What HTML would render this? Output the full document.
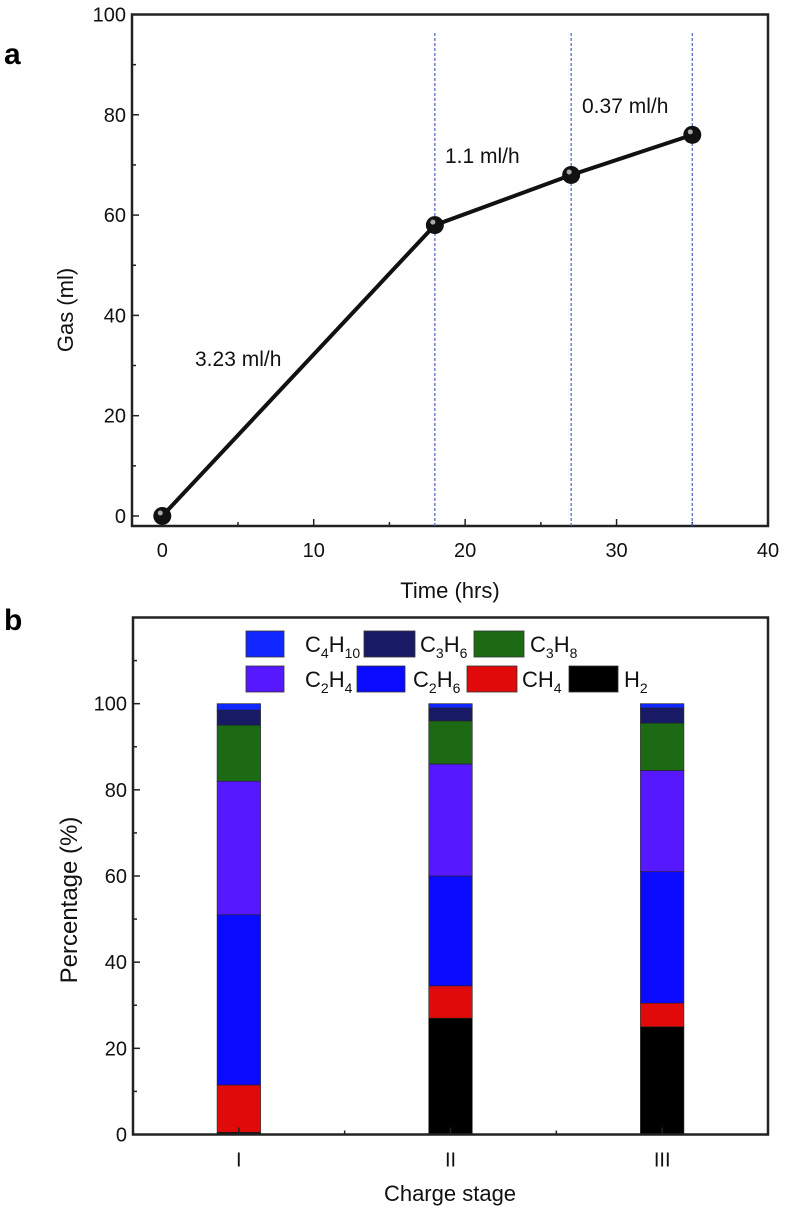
<!DOCTYPE html>
<html><head><meta charset="utf-8"><style>
body{margin:0;background:#fff;}
svg{display:block;font-family:"Liberation Sans",Arial,sans-serif;}
</style></head><body>
<svg id="s" width="785" height="1211" viewBox="0 0 785 1211">
<text x="4" y="64" font-size="30" font-weight="bold">a</text>
<text x="4" y="630" font-size="30" font-weight="bold">b</text>
<g id="ga"></g>
<g id="gb"></g>
</svg>
<script>
const timeHrs=[0,18,27,35];
const gasMl=[0,58,68,76];
const xTicksA=[0,10,20,30,40];
const yTicksA=[0,20,40,60,80,100];
const rateLabels=["3.23 ml/h","1.1 ml/h","0.37 ml/h"];
const stages=["I","II","III"];
const species=["H2","CH4","C2H6","C2H4","C3H8","C3H6","C4H10"];
const valH2=[0.5,27,25];
const valCH4=[11,7.5,5.5];
const valC2H6=[39.5,25.5,30.5];
const valC2H4=[31,26,23.5];
const valC3H8=[13,10,11];
const valC3H6=[3.5,3,3.5];
const valC4H10=[1.5,1,1];
const yTicksB=[0,20,40,60,80,100];

const NS="http://www.w3.org/2000/svg";
function mk(p,t,a,txt){const e=document.createElementNS(NS,t);for(const k in a)e.setAttribute(k,a[k]);if(txt!=null)e.textContent=txt;p.appendChild(e);return e;}
const TC='#111';

// ---- chart A
const ga=document.getElementById('ga');
const AL=132,AR=768,AT=14.5,AB=526;
const xa=v=>AL+(v+2)/42*(AR-AL);
const ya=v=>AB-(v+2)/102*(AB-AT);
let fr=mk(ga,'rect',{x:AL,y:AT,width:AR-AL,height:AB-AT,fill:'none',stroke:'#222','stroke-width':2.5});

for(let v=0;v<=40;v+=5){const l=mk(ga,'line',{x1:xa(v),x2:xa(v),y1:AB,y2:AB-(v%10?4:7),stroke:'#222','stroke-width':1.5});}
for(let v=0;v<=100;v+=10){const l=mk(ga,'line',{x1:AL,x2:AL+(v%20?4:7),y1:ya(v),y2:ya(v),stroke:'#222','stroke-width':1.5});}
xTicksA.forEach(v=>{const t=mk(ga,'text',{x:xa(v),y:AB+31,'font-size':20,'text-anchor':'middle',fill:TC},v);});
yTicksA.forEach(v=>{const t=mk(ga,'text',{x:AL-6,y:ya(v)+7,'font-size':20,'text-anchor':'end',fill:TC},v);});
let tt=mk(ga,'text',{x:450,y:598,'font-size':22,'text-anchor':'middle',fill:TC},'Time (hrs)');
tt=mk(ga,'text',{x:0,y:0,'font-size':22,'text-anchor':'middle',fill:TC,transform:'translate(73,310) rotate(-90)'},'Gas (ml)');
timeHrs.slice(1).forEach(v=>{const l=mk(ga,'line',{x1:xa(v),x2:xa(v),y1:33,y2:AB,stroke:'#5060c0','stroke-width':1.2,'stroke-dasharray':'3,2'});});
let pts=timeHrs.map((t,i)=>xa(t)+','+ya(gasMl[i])).join(' ');
let pl=mk(ga,'polyline',{points:pts,fill:'none',stroke:'#111','stroke-width':4});
timeHrs.forEach((t,i)=>{const c=mk(ga,'circle',{cx:xa(t),cy:ya(gasMl[i]),r:9,fill:'#111'});
mk(ga,'circle',{cx:xa(t)-2,cy:ya(gasMl[i])-3,r:2.5,fill:'#aaa'});});
const rlPos=[[195,366],[445,163],[582,113]];
rateLabels.forEach((s,i)=>{const t=mk(ga,'text',{x:rlPos[i][0],y:rlPos[i][1],'font-size':21,fill:TC},s);});

// ---- chart B
const gb=document.getElementById('gb');
const BL=133,BR=768,BT=617.5,BB=1134.5;
const xb=i=>BL+(i+0.5)/3*(BR-BL);
const yb=v=>BB-v/120*(BB-BT);
const colors={H2:'#000000',CH4:'#e00a0a',C2H6:'#0a0aff',C2H4:'#5518ff',C3H8:'#1c6b14',C3H6:'#191a66',C4H10:'#1028ff'};
const vals={H2:valH2,CH4:valCH4,C2H6:valC2H6,C2H4:valC2H4,C3H8:valC3H8,C3H6:valC3H6,C4H10:valC4H10};
const BW=43.5;
stages.forEach((s,i)=>{let acc=0;species.forEach(sp=>{const v=vals[sp][i];const r=mk(gb,'rect',{x:xb(i)-BW/2,y:yb(acc+v),width:BW,height:yb(acc)-yb(acc+v),fill:colors[sp],stroke:'#222','stroke-width':0.6});
acc+=v;});});
fr=mk(gb,'rect',{x:BL,y:BT,width:BR-BL,height:BB-BT,fill:'none',stroke:'#222','stroke-width':2.5});
for(let v=0;v<=110;v+=10){const l=mk(gb,'line',{x1:BL,x2:BL+(v%20?4:7),y1:yb(v),y2:yb(v),stroke:'#222','stroke-width':1.5});}
for(let k=1;k<=5;k++){const xv=BL+k*(BR-BL)/6;const l=mk(gb,'line',{x1:xv,x2:xv,y1:BB,y2:BB-(k%2?7:4),stroke:'#222','stroke-width':1.5});}
stages.forEach((s,i)=>{const t=mk(gb,'text',{x:xb(i),y:BB+32,'font-size':20,'text-anchor':'middle',fill:TC},s);});
yTicksB.forEach(v=>{const t=mk(gb,'text',{x:BL-6,y:yb(v)+7,'font-size':20,'text-anchor':'end',fill:TC},v);});
tt=mk(gb,'text',{x:450,y:1201,'font-size':22,'text-anchor':'middle',fill:TC},'Charge stage');
tt=mk(gb,'text',{x:0,y:0,'font-size':24,'text-anchor':'middle',fill:TC,transform:'translate(77,900) rotate(-90)'},'Percentage (%)');
// legend
const leg=[['C4H10',246,631,38,'C','4','H','10',305],['C3H6',364,631,51,'C','3','H','6',420],['C3H8',474,631,50,'C','3','H','8',530],
['C2H4',246,666,38,'C','2','H','4',305],['C2H6',357,666,48,'C','2','H','6',413],['CH4',467,666,50,'CH','','','4',522],['H2',569,666,49,'H','','','2',624]];
leg.forEach(e=>{const g=mk(gb,'g',{});
mk(g,'rect',{x:e[1],y:e[2],width:e[3],height:26,fill:colors[e[0]],stroke:'#333','stroke-width':0.8});
const t=mk(g,'text',{x:e[8],y:e[2]+21,'font-size':22,fill:TC});
mk(t,'tspan',{},e[4]);
if(e[5]){mk(t,'tspan',{'font-size':14,dy:6},e[5]);mk(t,'tspan',{dy:-6},e[6]);}
mk(t,'tspan',{'font-size':14,dy:6},e[7]);
});
</script>
</body></html>
